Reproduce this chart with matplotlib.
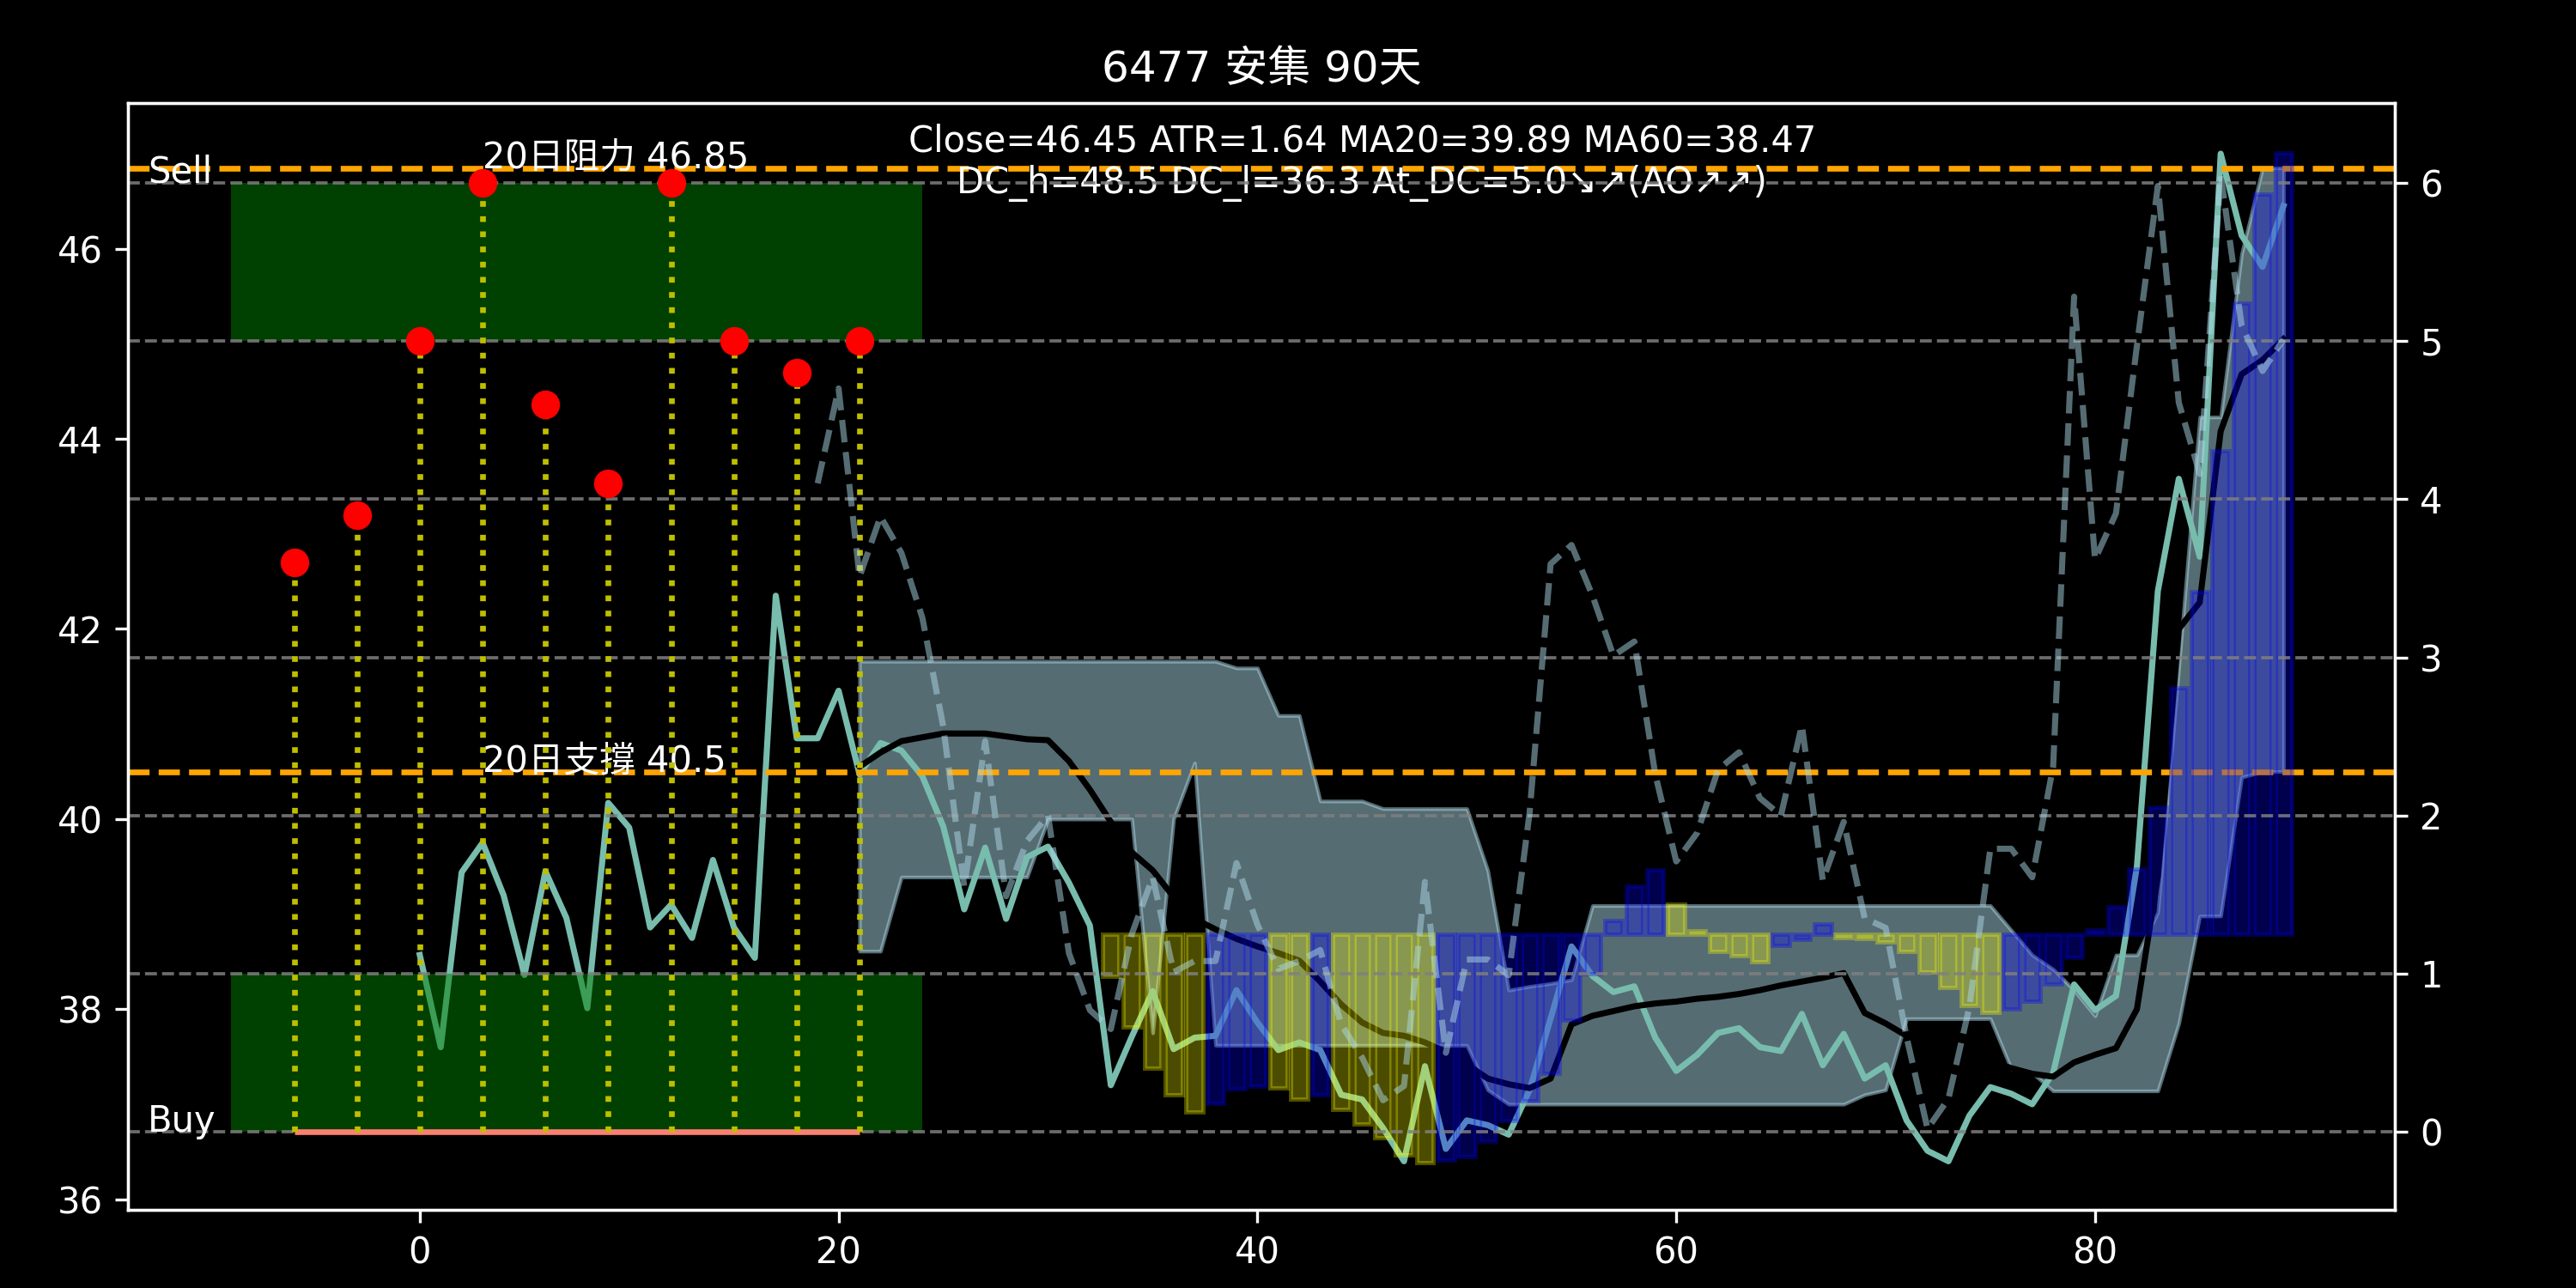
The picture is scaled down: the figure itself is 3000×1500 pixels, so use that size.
import matplotlib
matplotlib.use("Agg")
import matplotlib.pyplot as plt
import matplotlib.transforms as mtransforms
from matplotlib.patches import Rectangle
import numpy as np

plt.style.use("dark_background")
plt.rcParams["font.family"] = ["DejaVu Sans", "Noto Sans CJK TC"]

# ---- price side (left axis) ----
close_x = np.arange(0, 90)
close = [38.57, 37.60, 39.44, 39.75, 39.20, 38.36, 39.45, 38.96, 38.01, 40.17,
         39.91, 38.86, 39.10, 38.75, 39.57, 38.86, 38.54, 42.35, 40.85, 40.85,
         41.35, 40.47, 40.80, 40.72, 40.45, 39.92, 39.05, 39.70, 38.95, 39.60,
         39.71, 39.33, 38.88, 37.20, 37.71, 38.19, 37.58, 37.70, 37.72, 38.20,
         37.86, 37.57, 37.65, 37.57, 37.10, 37.05, 36.75, 36.40, 37.40, 36.53,
         36.83, 36.78, 36.68, 37.15, 37.90, 38.66, 38.35, 38.18, 38.24, 37.70,
         37.35, 37.52, 37.75, 37.80, 37.60, 37.56, 37.95, 37.41, 37.74, 37.27,
         37.41, 36.83, 36.51, 36.40, 36.88, 37.18, 37.11, 37.00, 37.33, 38.26,
         37.99, 38.14, 39.50, 42.40, 43.58, 42.76, 47.00, 46.14, 45.81, 46.45]

band_x = np.arange(21, 90)
band_hi = [41.66] * 18 + [41.59, 41.59, 41.09, 41.09, 40.19, 40.19, 40.19,
           40.11, 40.11, 40.11, 40.11, 40.11, 39.46, 38.20, 38.24, 38.27, 38.31] \
          + [39.09] * 20 + [38.83, 38.57, 38.42, 38.20, 37.93, 38.57, 38.57,
                            39.02, 41.60, 44.23, 44.23, 45.95, 46.85, 46.85]
band_lo = [38.61, 38.61] + [39.39] * 7 + [40.00] * 5 + [37.75, 40.00, 40.59] \
          + [37.62] * 13 + [37.15] + [37.00] * 17 + [37.10, 37.15] \
          + [37.90] * 5 + [37.37, 37.33] + [37.14] * 6 \
          + [37.85, 38.98, 38.98, 40.44, 40.50, 40.50]

ma = [40.55, 40.70, 40.82, 40.86, 40.90, 40.90, 40.90, 40.87, 40.84, 40.83,
      40.61, 40.31, 39.97, 39.65, 39.46, 39.18, 38.95, 38.84, 38.74, 38.66,
      38.59, 38.51, 38.29, 38.05, 37.86, 37.75, 37.72, 37.65, 37.55, 37.42,
      37.27, 37.21, 37.17, 37.27, 37.84, 37.93, 37.98, 38.03, 38.06, 38.08,
      38.11, 38.13, 38.16, 38.20, 38.25, 38.29, 38.33, 38.38, 37.96, 37.85,
      37.72, 37.62, 37.55, 37.50, 37.45, 37.38, 37.32, 37.29, 37.44, 37.52,
      37.59, 38.00, 39.40, 42.00, 42.28, 44.08, 44.68, 44.83, 45.05]

resist = 46.85
support = 40.5

# ---- AO histogram (hidden axis) ----
ao_x = np.arange(33, 90)
ao = [-0.44, -0.97, -1.41, -1.69, -1.87, -1.78, -1.62, -1.60, -1.61, -1.73,
      -1.69, -1.84, -1.99, -2.14, -2.32, -2.40, -2.37, -2.34, -2.17, -1.96,
      -1.75, -1.46, -0.90, -0.41, 0.15, 0.51, 0.68, 0.32, 0.04, -0.18,
      -0.22, -0.29, -0.11, -0.05, 0.11, -0.03, -0.04, -0.08, -0.18, -0.39,
      -0.56, -0.75, -0.82, -0.78, -0.70, -0.52, -0.24, 0.05, 0.29, 0.69,
      1.34, 2.60, 3.61, 5.09, 6.64, 7.79, 8.22]

# ---- signal side (right axis) ----
osc_x = np.arange(19, 90)
osc = [4.10, 4.70, 3.51, 3.89, 3.66, 3.25, 2.56, 1.55, 2.47, 1.49,
       1.84, 2.00, 1.13, 0.77, 0.65, 1.25, 1.61, 1.01, 1.08, 1.08,
       1.70, 1.31, 1.03, 1.08, 1.15, 0.68, 0.47, 0.20, 0.29, 1.58,
       0.50, 1.09, 1.09, 0.99, 2.02, 3.59, 3.71, 3.39, 3.01, 3.10,
       2.26, 1.71, 1.89, 2.29, 2.40, 2.11, 2.00, 2.57, 1.59, 1.96,
       1.35, 1.29, 0.60, 0.02, 0.21, 0.79, 1.79, 1.79, 1.61, 2.31,
       5.28, 3.62, 3.91, 4.97, 5.98, 4.61, 4.16, 6.05, 5.10, 4.81,
       5.01]

sig_x = [-6, -3, 0, 3, 6, 9, 12, 15, 18, 21]
sig_y = [3.6, 3.9, 5.0, 6.0, 4.6, 4.1, 6.0, 5.0, 4.8, 5.0]

zone_x = (-9, 24)
sell_zone = (5, 6)
buy_zone = (0, 1)

info = ("Close=46.45 ATR=1.64 MA20=39.89 MA60=38.47\n"
        "DC_h=48.5 DC_l=36.3 At_DC=5.0\u2198\u2197(AO\u2197\u2197)")

fig, ax = plt.subplots(figsize=(10, 5), dpi=300)
fig.subplots_adjust(left=0.0498, right=0.9297, bottom=0.0604, top=0.92)

ax.fill_between(band_x, band_lo, band_hi, color="lightblue", alpha=0.5)
ax.plot(close_x, close, color="#78bcae", lw=1.7)
ax.plot(band_x, ma, color="black", lw=1.7)
ax.axhline(resist, color="orange", ls="--", lw=1.6)
ax.axhline(support, color="orange", ls="--", lw=1.6)
ax.text(3, resist, f"20日阻力 {resist}", color="white", fontsize=10)
ax.text(3, support, f"20日支撐 {support}", color="white", fontsize=10)
trans = mtransforms.blended_transform_factory(ax.transData, ax.transAxes)
ax.text(45, 0.982, info, transform=trans, ha="center", va="top",
        color="white", fontsize=10)
ax.set_xlim(-13.92, 94.32)
ax.set_ylim(35.885, 47.533)
ax.set_yticks(range(36, 47, 2))
ax.set_title("6477 安集 90天")

# histogram on its own hidden scale
ax3 = ax.twinx()
bar_cols = ["yellow" if i == 0 or ao[i] < ao[i - 1] else "blue"
            for i in range(len(ao))]
ax3.bar(ao_x, ao, width=0.8, color=bar_cols, edgecolor=bar_cols,
        alpha=0.3, lw=1.2)
ax3.set_ylim(35.885 - 38.785, 47.533 - 38.785)
ax3.axis("off")

# signal axis on top
ax2 = ax.twinx()
ax2.set_ylim(-0.495, 6.504)
ax2.grid(axis="y", color="gray", ls="--", lw=0.9, alpha=0.85)
for lo, hi in (sell_zone, buy_zone):
    ax2.add_patch(Rectangle((zone_x[0], lo), zone_x[1] - zone_x[0], hi - lo,
                            color="green", alpha=0.5, lw=0))
ax2.hlines(0, sig_x[0], sig_x[-1], color="salmon", lw=1.6)
ax2.vlines(sig_x, 0, sig_y, colors="y", linestyles=":", lw=1.6)
ax2.plot(sig_x, sig_y, "o", color="red", ms=7)
ax2.plot(osc_x, osc, color="lightblue", ls="--", lw=1.7, alpha=0.5)
ax2.text(-13, 6, "Sell", color="white", fontsize=10)
ax2.text(-13, 0, "Buy", color="white", fontsize=10)

fig.savefig("out.png", dpi=300)
